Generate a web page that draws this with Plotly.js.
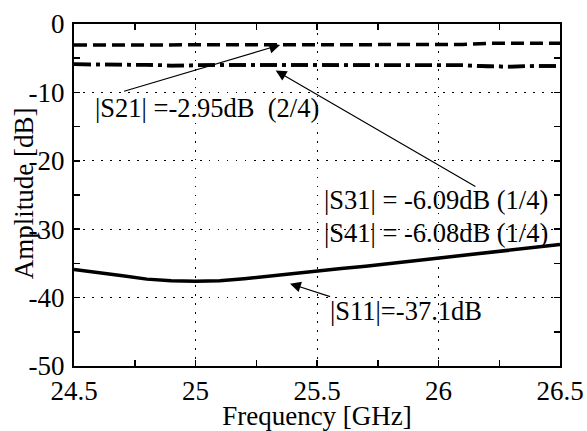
<!DOCTYPE html>
<html>
<head>
<meta charset="utf-8">
<script src="https://cdn.plot.ly/plotly-3.0.1.min.js"></script>
<style>html,body{margin:0;padding:0;background:#fff;}#chart{width:587px;height:431px;}</style>
</head>
<body>
<div id="chart"></div>
<script>
// Frequency points (GHz)
const freq = [24.5,24.6,24.7,24.8,24.9,25.0,25.1,25.2,25.3,25.4,25.5,25.6,25.7,25.8,25.9,26.0,26.1,26.2,26.3,26.4,26.5];
// |S11| (dB)
const s11 = [-35.9,-36.3,-36.8,-37.3,-37.55,-37.6,-37.55,-37.25,-36.85,-36.45,-36.1,-35.75,-35.4,-35.0,-34.6,-34.2,-33.8,-33.4,-33.0,-32.6,-32.25];
// |S21| (dB)
const s21 = [-3.07,-3.07,-3.07,-3.06,-3.06,-3.06,-3.05,-3.05,-3.05,-3.05,-3.05,-3.05,-3.05,-3.05,-3.05,-3.05,-3.0,-2.83,-2.8,-2.8,-2.8];
// |S31| (dB)
const s31 = [-5.9,-5.9,-5.9,-5.95,-6.1,-6.0,-6.0,-6.0,-6.0,-6.0,-6.0,-6.0,-6.0,-6.0,-6.0,-6.0,-6.02,-6.2,-6.25,-6.15,-6.15];
// |S41| (dB)
const s41 = [-5.9,-5.9,-5.92,-5.97,-6.08,-6.0,-6.0,-6.0,-6.0,-6.0,-6.0,-6.0,-6.0,-6.0,-6.0,-6.0,-6.03,-6.15,-6.22,-6.15,-6.15];

// Tick values / labels
const xTickVals = [24.5,25,25.5,26,26.5];
const xTickText = ['24.5','25','25.5','26','26.5'];
const yTickVals = [0,-10,-20,-30,-40,-50];
const yTickText = ['0','-10','-20','-30','-40','-50'];

// Titles and annotation labels
const xTitle = 'Frequency [GHz]';
const yTitle = 'Amplitude [dB]';
const labelS21 = '|S21| =-2.95dB  (2/4)';
const labelS31 = '|S31| = -6.09dB (1/4)';
const labelS41 = '|S41| = -6.08dB (1/4)';
const labelS11 = '|S11|=-37.1dB';

const FONT = 'Liberation Serif';

const traces = [
  {x: freq, y: s11, mode: 'lines', name: '|S11|', line: {color: '#000', width: 3.5}},
  {x: freq, y: s21, mode: 'lines', name: '|S21|', line: {color: '#000', width: 3.5, dash: '13px,6px'}},
  {x: freq, y: s31, mode: 'lines', name: '|S31|', line: {color: '#000', width: 3.5, dash: '17px,5px,4px,5px'}},
  {x: freq, y: s41, mode: 'lines', name: '|S41|', line: {color: '#000', width: 3.5, dash: '17px,5px,4px,5px'}}
];

const axisCommon = {
  showline: true, linecolor: '#000', linewidth: 2, mirror: 'ticks',
  ticks: 'inside', ticklen: 6, tickwidth: 1.5, tickcolor: '#000',
  showgrid: true, gridcolor: '#000', gridwidth: 1, griddash: '1.5px,7.5px',
  zeroline: false, tickmode: 'array',
  tickfont: {family: FONT, size: 27, color: '#000'}
};

const arrowStyle = {showarrow: true, arrowhead: 2, arrowsize: 1.8, arrowwidth: 1.2, arrowcolor: '#000',
  text: ' ', font: {size: 1}, axref: 'x', ayref: 'y', xref: 'x', yref: 'y', standoff: 0, startstandoff: 0};
const textStyle = {showarrow: false, xref: 'x', yref: 'y', xanchor: 'left', yanchor: 'middle',
  font: {family: FONT, size: 26.5, color: '#000'}};

const layout = {
  width: 587, height: 431,
  margin: {l: 74, r: 27, t: 24, b: 65},
  paper_bgcolor: '#fff', plot_bgcolor: '#fff',
  showlegend: false,
  font: {family: FONT, color: '#000'},
  xaxis: Object.assign({}, axisCommon, {
    range: [24.5, 26.5], tickvals: xTickVals, ticktext: xTickText,
    minor: {ticks: 'inside', ticklen: 6, tickwidth: 1.5, tickcolor: '#000', tick0: 24.5, dtick: 0.25, showgrid: false},
    title: {text: xTitle, font: {family: FONT, size: 27, color: '#000'}, standoff: 6}
  }),
  yaxis: Object.assign({}, axisCommon, {
    range: [-50, 0], tickvals: yTickVals, ticktext: yTickText, ticklabelstandoff: 2,
    minor: {ticks: 'inside', ticklen: 6, tickwidth: 1.5, tickcolor: '#000', tick0: 0, dtick: 5, showgrid: false}
  }),
  annotations: [
    {xref: 'paper', yref: 'paper', x: -0.103, y: 0.505, xanchor: 'center', yanchor: 'middle',
     textangle: -90, showarrow: false, text: yTitle, font: {family: FONT, size: 27, color: '#000'}},
    Object.assign({}, arrowStyle, {x: 25.348, y: -3.07, ax: 24.70, ay: -9.9}),
    Object.assign({}, arrowStyle, {x: 25.33, y: -6.8, ax: 26.158, ay: -23.87}),
    Object.assign({}, arrowStyle, {x: 25.389, y: -37.96, ax: 25.56, ay: -39.93}),
    Object.assign({}, textStyle, {x: 24.578, y: -12.3, text: labelS21}),
    Object.assign({}, textStyle, {x: 25.52, y: -25.8, text: labelS31}),
    Object.assign({}, textStyle, {x: 25.52, y: -30.6, text: labelS41}),
    Object.assign({}, textStyle, {x: 25.545, y: -41.9, text: labelS11})
  ]
};

Plotly.newPlot('chart', traces, layout, {staticPlot: true, displayModeBar: false});
</script>
</body>
</html>
